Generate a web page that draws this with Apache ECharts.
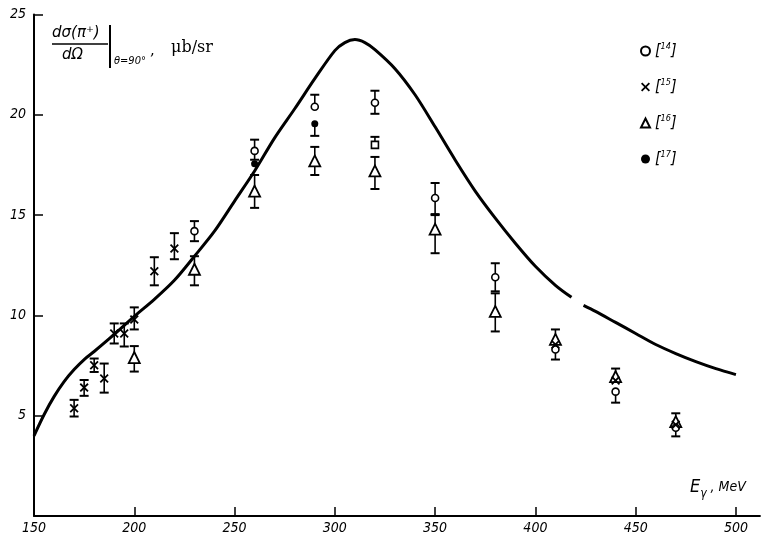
<!DOCTYPE html>
<html><head><meta charset="utf-8">
<script src="https://cdn.jsdelivr.net/npm/echarts@6/dist/echarts.min.js"></script>
<style>html,body{margin:0;padding:0;background:#fff}#c{width:768px;height:535px}</style>
</head><body><div id="c"></div>
<script>
// Theoretical curve (E in MeV, value in μb/sr); null marks the gap in the printed line
const curveE = [150,155,160,165,170,175,180,190,200,210,220,230,240,250,260,270,280,290,300,305,310,315,320,330,340,350,360,370,380,390,400,410,418,421,424,430,440,450,460,470,480,490,500];
const curveV = [4.0,5.05,5.95,6.7,7.3,7.8,8.2,9.05,9.95,10.8,11.75,12.95,14.2,15.7,17.2,18.85,20.3,21.8,23.2,23.6,23.75,23.6,23.25,22.3,21.0,19.4,17.75,16.2,14.85,13.6,12.45,11.5,10.9,null,10.5,10.2,9.65,9.1,8.55,8.1,7.7,7.35,7.05];
// Data points: [E, value, lower error end, upper error end]
const ref14 = [[230,14.2,13.7,14.7],[260,18.2,17.76,18.76],[290,20.4,null,21.0],[320,20.6,20.05,21.2],[350,15.85,15.05,16.6],[380,11.9,11.2,12.6],[410,8.3,7.8,null],[440,6.2,5.65,null],[470,4.4,3.97,null]];
const ref15 = [[170,5.37,4.96,5.79],[175,6.4,5.99,6.78],[180,7.51,7.18,7.85],[185,6.85,6.15,7.6],[190,9.1,8.6,9.6],[195,9.1,8.45,9.6],[200,9.8,9.3,10.4],[210,12.2,11.5,12.9],[220,13.33,12.8,14.1],[410,8.55,null,null],[440,6.75,null,null],[470,4.55,null,null]];
const ref16 = [[200,7.9,7.2,8.47],[230,12.3,11.5,12.95],[260,16.2,15.36,17.0],[290,17.7,17.0,18.4],[320,17.2,16.3,17.9],[350,14.3,13.1,15.0],[380,10.2,9.2,11.1],[410,8.8,null,9.3],[440,6.95,null,7.35],[470,4.7,null,5.12]];
const ref17 = [[260,17.56,null,null],[290,19.55,18.95,null]];
const refSquare = [[320,18.5,null,18.9]];
const legendNames = ['14','15','16','17'];

const chart = echarts.init(document.getElementById('c'));
const crossPath = 'path://M0,1.4L1.4,0L5,3.6L8.6,0L10,1.4L6.4,5L10,8.6L8.6,10L5,6.4L1.4,10L0,8.6L3.6,5Z';
const FAM = '"Liberation Sans Narrow","DejaVu Sans Condensed",sans-serif';

const allErr = [].concat(ref14, ref15, ref16, ref17, refSquare).map(d => [d[0], d[1], d[2] == null ? NaN : d[2], d[3] == null ? NaN : d[3]]);

function renderErr(params, api) {
  const x = api.value(0), y = api.value(1), lo = api.value(2), hi = api.value(3);
  const c = api.coord([x, y]);
  const w = 4.5;
  const ch = [];
  [lo, hi].forEach(v => {
    if (v == null || isNaN(v)) return;
    const p = api.coord([x, v]);
    ch.push({type: 'line', shape: {x1: c[0], y1: c[1], x2: p[0], y2: p[1]}, style: {stroke: '#000', lineWidth: 1.6}});
    ch.push({type: 'line', shape: {x1: p[0] - w, y1: p[1], x2: p[0] + w, y2: p[1]}, style: {stroke: '#000', lineWidth: 2}});
  });
  return {type: 'group', children: ch};
}

const pts = a => a.map(d => [d[0], d[1]]);

chart.setOption({
  animation: false,
  backgroundColor: '#fff',
  grid: {left: 34, right: 8, top: 14.5, bottom: 18},
  xAxis: {
    type: 'value', min: 150, max: 512, interval: 50,
    axisLine: {lineStyle: {color: '#000', width: 1.8}},
    axisTick: {inside: true, length: 9, lineStyle: {color: '#000', width: 1.5}},
    axisLabel: {color: '#000', fontStyle: 'italic', fontSize: 14, fontFamily: FAM, margin: 5, showMaxLabel: false,
      formatter: v => (v % 50 === 0 ? String(v) : '')},
    splitLine: {show: false}
  },
  yAxis: {
    type: 'value', min: 0, max: 25, interval: 5,
    axisLine: {lineStyle: {color: '#000', width: 2}},
    axisTick: {inside: true, length: 9, lineStyle: {color: '#000', width: 1.5}},
    axisLabel: {color: '#000', fontStyle: 'italic', fontSize: 14, fontFamily: FAM, margin: 8,
      formatter: v => (v === 0 ? '' : String(v))},
    splitLine: {show: false}
  },
  legend: {
    orient: 'vertical', left: 635, top: 37, itemGap: 19, itemWidth: 9, itemHeight: 9,
    data: legendNames,
    formatter: n => '{a|[}{s|' + n + '}{a|]}',
    textStyle: {color: '#000', rich: {
      a: {fontSize: 16, fontStyle: 'italic', fontFamily: '"DejaVu Sans Condensed",sans-serif', lineHeight: 18, color: '#000'},
      s: {fontSize: 9, fontStyle: 'italic', fontFamily: '"DejaVu Sans Condensed",sans-serif', verticalAlign: 'top', lineHeight: 18, color: '#000'}
    }},
    selectedMode: false
  },
  graphic: [
    {type: 'text', left: 52, top: 26, style: {text: 'dσ(π⁺)', font: 'italic 15px "DejaVu Sans",sans-serif', fill: '#000'}},
    {type: 'line', shape: {x1: 52, y1: 44, x2: 108, y2: 44}, style: {stroke: '#000', lineWidth: 1.5}},
    {type: 'text', left: 62, top: 48, style: {text: 'dΩ', font: 'italic 15px "DejaVu Sans",sans-serif', fill: '#000'}},
    {type: 'line', shape: {x1: 110, y1: 25, x2: 110, y2: 68}, style: {stroke: '#000', lineWidth: 2}},
    {type: 'text', left: 114, top: 56, style: {text: 'θ=90°', font: 'italic 11px "DejaVu Sans Condensed",sans-serif', fill: '#000'}},
    {type: 'text', left: 150, top: 44, style: {text: ',', font: '15px "DejaVu Serif",serif', fill: '#000'}},
    {type: 'text', left: 171, top: 40, style: {text: 'μb/sr', font: '16px "DejaVu Serif",serif', fill: '#000'}},
    {type: 'text', left: 690, top: 478, style: {text: '{e|E}{g|γ}{m| , MeV}', rich: {
      e: {fontSize: 18, fontStyle: 'italic', fontFamily: '"DejaVu Sans Condensed",sans-serif', fill: '#000', lineHeight: 22},
      g: {fontSize: 12, fontStyle: 'italic', fontFamily: '"DejaVu Sans Condensed",sans-serif', fill: '#000', verticalAlign: 'bottom', lineHeight: 26},
      m: {fontSize: 14, fontStyle: 'italic', fontFamily: '"DejaVu Sans Condensed",sans-serif', fill: '#000', lineHeight: 22}
    }}}
  ],
  series: [
    {type: 'line', name: 'curve', data: curveE.map((e, i) => [e, curveV[i]]), smooth: 0.3, showSymbol: false, connectNulls: false,
      lineStyle: {color: '#000', width: 3}, z: 2, silent: true},
    {type: 'custom', name: 'err', data: allErr, renderItem: renderErr, z: 3, silent: true},
    {type: 'scatter', name: '14', data: pts(ref14), symbol: 'circle', symbolSize: 7, z: 5,
      itemStyle: {color: '#fff', borderColor: '#000', borderWidth: 1.6, opacity: 1}},
    {type: 'scatter', name: '15', data: pts(ref15), symbol: crossPath, symbolSize: 9, z: 5,
      itemStyle: {color: '#000', opacity: 1}},
    {type: 'scatter', name: '16', data: pts(ref16), symbol: 'triangle', symbolSize: [11, 11], z: 4,
      itemStyle: {color: '#fff', borderColor: '#000', borderWidth: 1.8, opacity: 1}},
    {type: 'scatter', name: '17', data: pts(ref17), symbol: 'circle', symbolSize: 7, z: 6,
      itemStyle: {color: '#000', opacity: 1}},
    {type: 'scatter', name: 'sq', data: pts(refSquare), symbol: 'rect', symbolSize: 7, z: 5,
      itemStyle: {color: '#fff', borderColor: '#000', borderWidth: 1.6, opacity: 1}}
  ]
});
</script>
</body></html>
